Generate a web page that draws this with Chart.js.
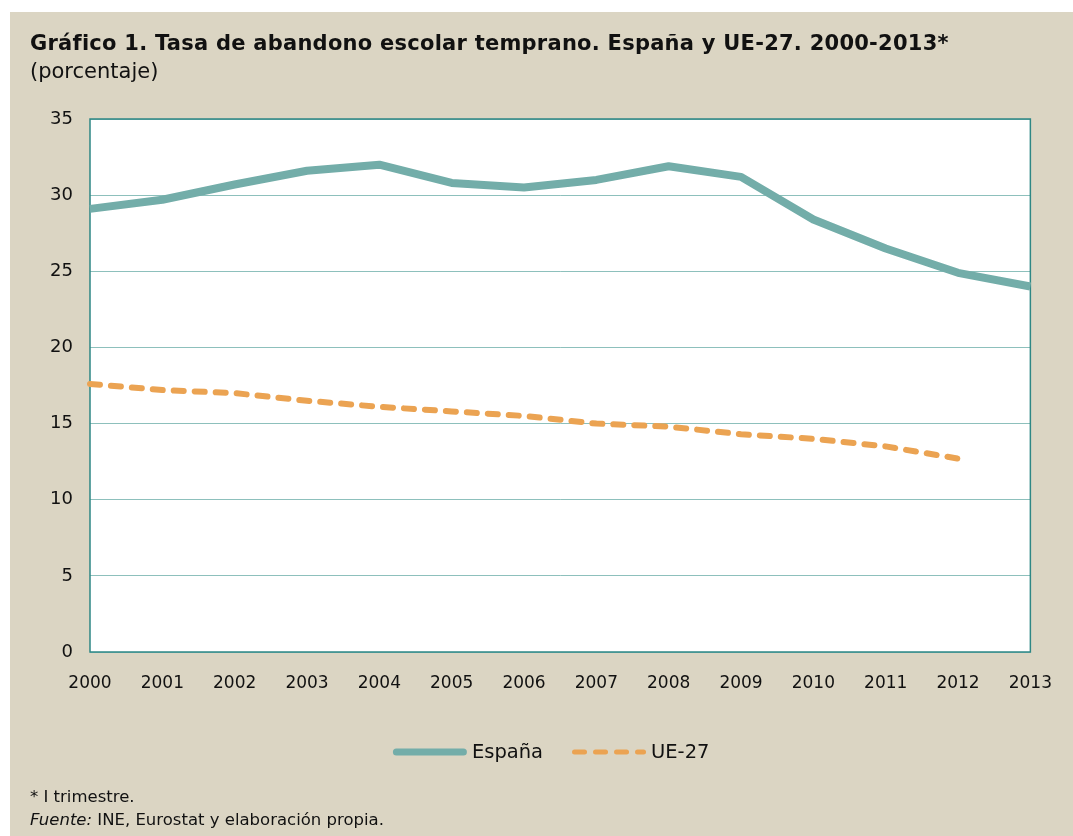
<!DOCTYPE html>
<html>
<head>
<meta charset="utf-8">
<script src="https://cdn.jsdelivr.net/npm/chart.js@4.4.1/dist/chart.umd.min.js"></script>
<style>
    body { margin: 0; background: #ffffff; width: 1073px; height: 836px; overflow: hidden; font-family: "DejaVu Sans", sans-serif; }
    #panel { position: absolute; left: 10px; top: 12px; width: 1063px; height: 824px; background: #DBD5C3; }
    #chartBox { position: absolute; left: 0; top: 0; width: 1073px; height: 836px; }
    .txt { position: absolute; left: 30px; color: #111; white-space: nowrap; }
    #title { top: 31px; font-size: 21px; font-weight: bold; letter-spacing: 0.25px; }
    #subtitle { top: 59px; font-size: 21px; }
    #note1 { top: 787px; font-size: 16.5px; }
    #note2 { top: 810px; font-size: 16.5px; }
</style>
</head>
<body>
<div id="panel"></div>
<div id="chartBox"><canvas id="abandonoChart" width="1073" height="836"></canvas></div>
<div class="txt" id="title">Gráfico 1. Tasa de abandono escolar temprano. España y UE-27. 2000-2013*</div>
<div class="txt" id="subtitle">(porcentaje)</div>
<div class="txt" id="note1">* I trimestre.</div>
<div class="txt" id="note2"><i>Fuente:</i> INE, Eurostat y elaboración propia.</div>

<script>
const years = ['2000', '2001', '2002', '2003', '2004', '2005', '2006', '2007', '2008', '2009', '2010', '2011', '2012', '2013'];
const espana = [29.1, 29.7, 30.7, 31.6, 32.0, 30.8, 30.5, 31.0, 31.9, 31.2, 28.4, 26.5, 24.9, 24.0];
const ue27 = [17.6, 17.2, 17.0, 16.5, 16.1, 15.8, 15.5, 15.0, 14.8, 14.3, 14.0, 13.5, 12.7, null];
const yTicks = [0, 5, 10, 15, 20, 25, 30, 35];

const tickFont = { family: 'DejaVu Sans', size: 17 };

// white plot area with teal frame
const plotFrame = {
    id: 'plotFrame',
    beforeDraw(chart) {
        const { ctx, chartArea: { left, top, width, height } } = chart;
        ctx.save();
        ctx.fillStyle = '#ffffff';
        ctx.fillRect(left, top, width, height);
        ctx.restore();
    },
    beforeDatasetsDraw(chart) {
        const { ctx, chartArea: { left, top, width, height } } = chart;
        ctx.save();
        ctx.strokeStyle = '#2E8785';
        ctx.lineWidth = 1.5;
        ctx.strokeRect(left, top, width, height);
        ctx.restore();
    }
};

// legend drawn by hand, the built-in one ignores borderDash with point styles
const lineLegend = {
    id: 'lineLegend',
    afterDraw(chart) {
        const { ctx, chartArea } = chart;
        const sampleW = 74;
        const gapText = 5;
        const gapItem = 29;
        const y = chartArea.bottom + 100;
        ctx.save();
        ctx.font = '19.5px "DejaVu Sans"';
        ctx.textBaseline = 'middle';
        let items = chart.data.datasets.map(ds => ({ ds, textW: ctx.measureText(ds.label).width }));
        let total = items.reduce((s, it) => s + sampleW + gapText + it.textW, 0) + gapItem * (items.length - 1);
        let x = (chartArea.left + chartArea.right) / 2 - 9 - total / 2;
        items.forEach(it => {
            const lw = it.ds.borderWidth - 1;
            ctx.beginPath();
            ctx.strokeStyle = it.ds.borderColor;
            ctx.lineWidth = lw;
            ctx.lineCap = 'round';
            ctx.setLineDash(it.ds.borderDash || []);
            ctx.moveTo(x + lw / 2, y);
            ctx.lineTo(x + sampleW - lw / 2, y);
            ctx.stroke();
            ctx.setLineDash([]);
            ctx.fillStyle = '#111';
            ctx.fillText(it.ds.label, x + sampleW + gapText, y + 1);
            x += sampleW + gapText + it.textW + gapItem;
        });
        ctx.restore();
    }
};

const ctx = document.getElementById('abandonoChart').getContext('2d');
new Chart(ctx, {
    type: 'line',
    data: {
        labels: years,
        datasets: [{
            label: 'España',
            data: espana,
            borderColor: '#73ADA9',
            backgroundColor: '#73ADA9',
            borderWidth: 8,
            borderJoinStyle: 'round',
            borderCapStyle: 'butt',
            pointRadius: 0,
            tension: 0
        }, {
            label: 'UE-27',
            data: ue27,
            borderColor: '#EBA352',
            backgroundColor: '#EBA352',
            borderWidth: 6,
            borderDash: [10, 11],
            borderCapStyle: 'round',
            borderJoinStyle: 'round',
            pointRadius: 0,
            tension: 0
        }]
    },
    options: {
        responsive: false,
        animation: false,
        layout: { padding: { left: 0, right: 42, top: 119, bottom: 122 } },
        plugins: {
            legend: { display: false },
            tooltip: { enabled: false }
        },
        scales: {
            x: {
                offset: false,
                grid: { display: false, drawTicks: false },
                border: { display: false },
                ticks: { color: '#111', font: tickFont, padding: 21, maxRotation: 0, autoSkip: false },
                afterFit(scale) { scale.height = 62; }
            },
            y: {
                min: 0,
                max: 35,
                afterBuildTicks(scale) { scale.ticks = yTicks.map(v => ({ value: v })); },
                grid: { color: '#8DC0BC', lineWidth: 1, drawTicks: false },
                border: { display: false },
                ticks: { color: '#111', font: { family: 'DejaVu Sans', size: 18 }, padding: 17 },
                afterFit(scale) { scale.width = 90; }
            }
        }
    },
    plugins: [plotFrame, lineLegend]
});
</script>
</body>
</html>
